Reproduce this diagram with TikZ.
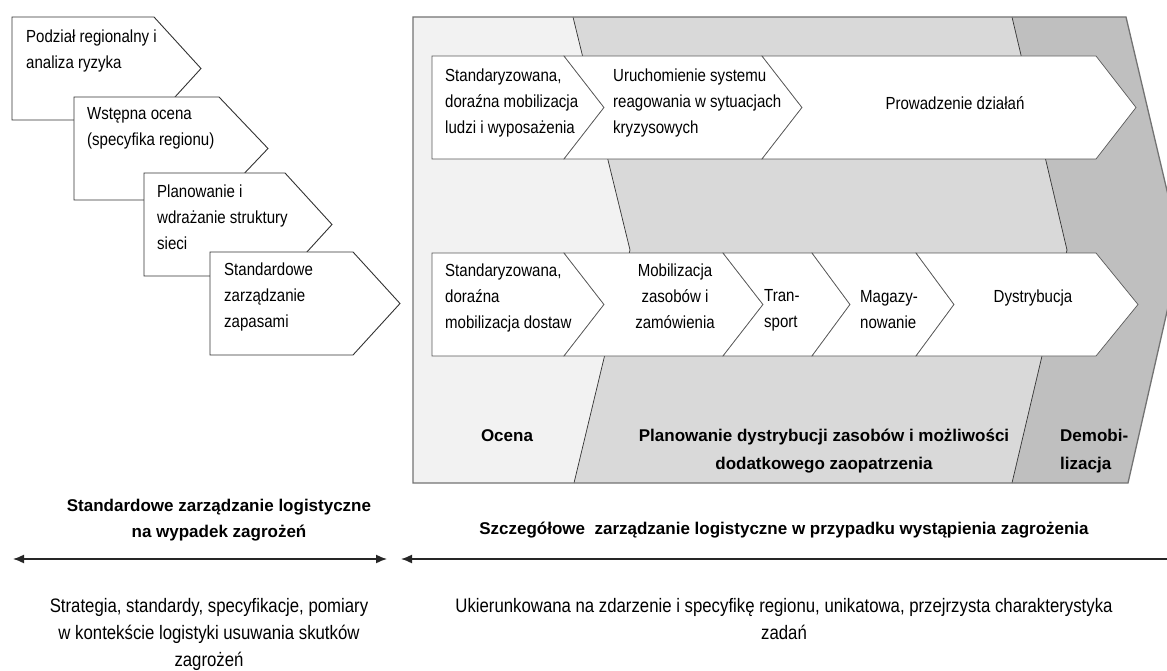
\documentclass[tikz,border=0pt]{standalone}
\usepackage{fontspec}
\setmainfont{Liberation Sans}
\newfontfamily\narrowsf[FakeStretch=0.86]{Liberation Sans}
\usepackage{tikz}
\usetikzlibrary{arrows.meta}

\definecolor{ocena}{HTML}{F2F2F2}
\definecolor{plan}{HTML}{D9D9D9}
\definecolor{demob}{HTML}{BFBFBF}

% chevron: left x, flat right x, top y, notch depth, tip depth
\newcommand{\chev}[6][chev]{%
  \filldraw[#1] (#2,#4) -- (#3,#4) -- ++(#6,51.5) -- ++(-#6,51.5)
    -- (#2,#4+103) -- ++(#5,-51.5) -- cycle;}

\begin{document}
\begin{tikzpicture}[x=1pt, y=-1pt,
  chev/.style={draw=black!65, fill=white, line width=0.7pt},
  stair/.style={draw=black!80, fill=white, line width=0.9pt},
  txt/.style={inner sep=0pt, align=left, font=\narrowsf\fontsize{17.5}{26}\selectfont},
  ctxt/.style={txt, align=center},
  phase/.style={inner sep=0pt, align=center, font=\bfseries\fontsize{17}{28}\selectfont},
  head/.style={inner sep=0pt, align=center, font=\bfseries\fontsize{17}{26}\selectfont},
  desc/.style={inner sep=0pt, align=center, font=\narrowsf\fontsize{19.5}{27}\selectfont},
  span/.style={line width=1.5pt, draw=black!85, >={Latex[length=11pt,width=9pt]}},
  sep/.style={draw=black!80, line width=0.7pt},
]
\useasboundingbox (0,0) rectangle (1167,671);

% phases of the right panel
\begin{scope}
\clip (0,0) rectangle (1167,671);
\fill[ocena] (413,17) -- (573,17) -- (630,250) -- (574,483) -- (413,483) -- cycle;
\fill[plan] (573,17) -- (1012,17) -- (1067,250) -- (1012,483) -- (574,483)
  -- (630,250) -- cycle;
\fill[demob] (1012,17) -- (1126,17) -- (1181,250) -- (1128,483) -- (1012,483)
  -- (1067,250) -- cycle;
\draw[sep] (573,17) -- (630,250) -- (574,483);
\draw[sep] (1012,17) -- (1067,250) -- (1012,483);
\draw[draw=black!55, line width=1.3pt] (413,17) -- (1126,17) -- (1181,250)
  -- (1128,483) -- (413,483) -- cycle;
\end{scope}

% left steps
\chev[stair]{12}{154}{17}{0}{47}
\chev[stair]{74}{219}{97}{0}{49}
\chev[stair]{144}{285}{173}{0}{47}
\chev[stair]{210}{353}{252}{0}{47}
\node[txt, anchor=north west] (s1) at (26,30) {Podział regionalny i\\analiza ryzyka};
\node[txt, anchor=north west] (s2) at (87,107) {Wstępna ocena\\(specyfika regionu)};
\node[txt, anchor=north west] (s3) at (157,185) {Planowanie i\\wdrażanie struktury\\sieci};
\node[txt, anchor=north west] (s4) at (224,263) {Standardowe\\zarządzanie\\zapasami};

% top row
\chev{432}{564}{56}{0}{40}
\chev{564}{762}{56}{40}{40}
\chev{762}{1096}{56}{40}{40}
\node[txt, anchor=north west] (a1) at (445,69)
  {Standaryzowana,\\doraźna mobilizacja\\ludzi i wyposażenia};
\node[txt, anchor=north west] (a2) at (613,69)
  {Uruchomienie systemu\\reagowania w sytuacjach\\kryzysowych};
\node[txt] (a3) at (955,103) {Prowadzenie działań};

% bottom row
\chev{432}{564}{253}{0}{40}
\chev{564}{723}{253}{40}{40}
\chev{723}{812}{253}{40}{38}
\chev{812}{916}{253}{38}{38}
\chev{916}{1096}{253}{38}{42}
\node[txt, anchor=north west] (b1) at (445,264)
  {Standaryzowana,\\doraźna\\mobilizacja dostaw};
\node[ctxt, anchor=north] (b2) at (675,264) {Mobilizacja\\zasobów i\\zamówienia};
\node[txt, anchor=north west] (b3) at (764,289) {Tran-\\sport};
\node[txt, anchor=north west] (b4) at (860,290) {Magazy-\\nowanie};
\node[txt] (b5) at (1033,298) {Dystrybucja};

% phase labels
\node[phase] (p1) at (507,436) {Ocena};
\node[phase, anchor=north] (p2) at (824,429)
  {Planowanie dystrybucji zasobów i możliwości\\dodatkowego zaopatrzenia};
\node[phase, anchor=north west, align=left] (p3) at (1060,429) {Demobi-\\lizacja};

% bottom spans
\node[head, anchor=north] (h1) at (219,499)
  {Standardowe zarządzanie logistyczne\\na wypadek zagrożeń};
\node[head] (h2) at (784,530)
  {Szczegółowe\ \ zarządzanie logistyczne w przypadku wystąpienia zagrożenia};
\coordinate (l1) at (13,559);
\coordinate (l2) at (387,559);
\coordinate (r1) at (401,559);
\coordinate (r2) at (1167,559);
\draw[span, <->] (l1) -- (l2);
\draw[span, <-] (r1) -- (r2);
\node[desc, anchor=north] (d1) at (209,598)
  {Strategia, standardy, specyfikacje, pomiary\\w kontekście logistyki usuwania skutków\\zagrożeń};
\node[desc, anchor=north] (d2) at (784,598)
  {Ukierunkowana na zdarzenie i specyfikę regionu, unikatowa, przejrzysta charakterystyka\\zadań};
\end{tikzpicture}
\end{document}
